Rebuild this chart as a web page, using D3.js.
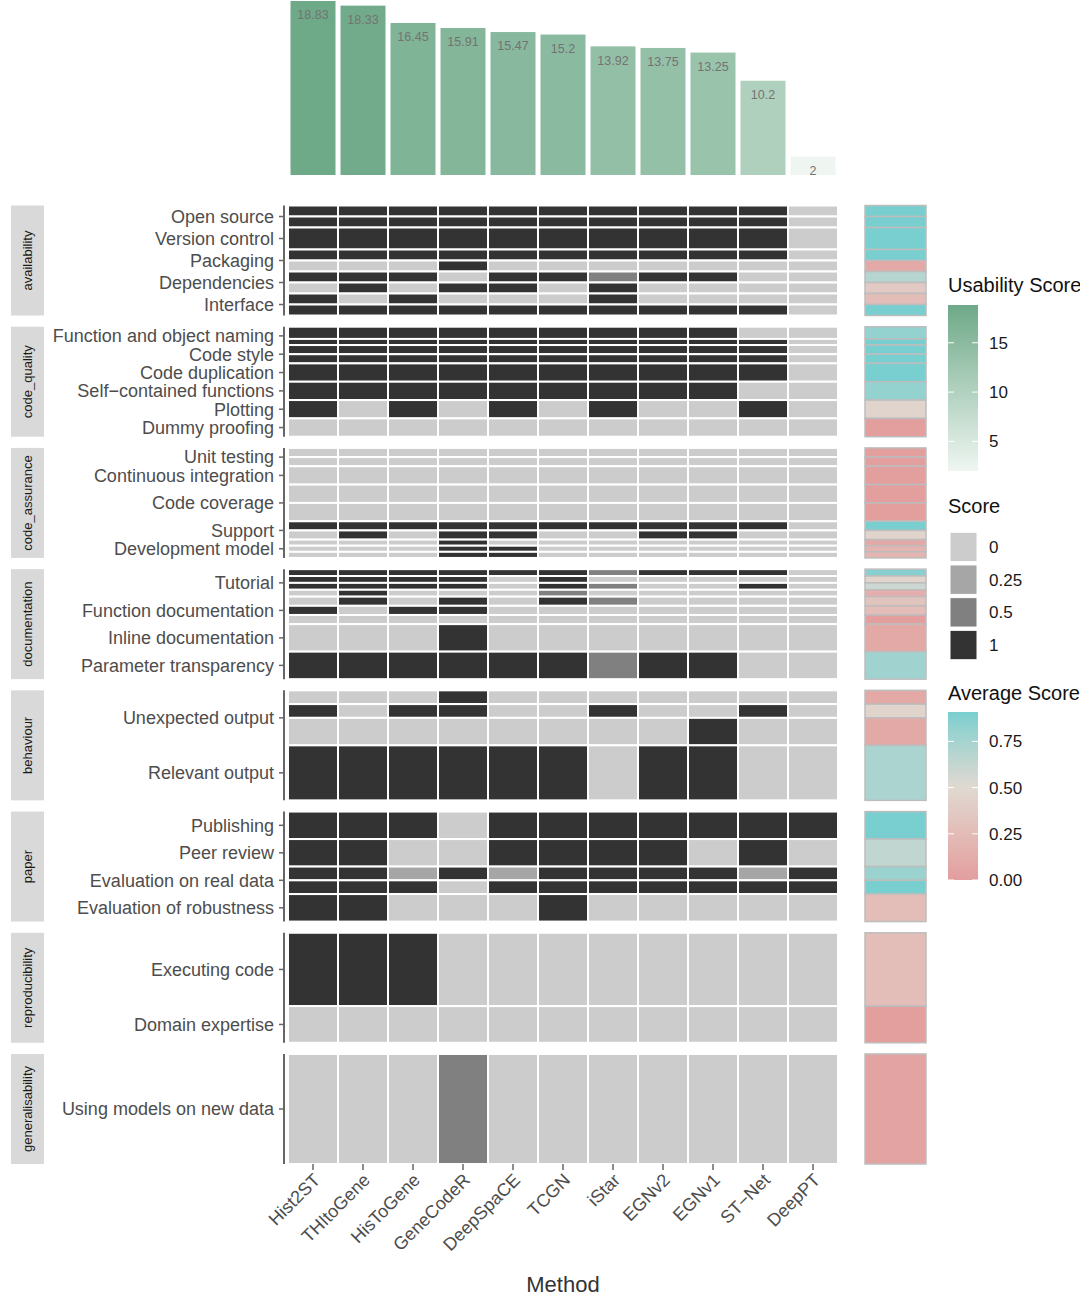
<!DOCTYPE html>
<html>
<head>
<meta charset="utf-8">
<script src="https://cdn.jsdelivr.net/npm/d3@7"></script>
<style>
  html, body { margin: 0; padding: 0; background: #fff; }
  svg { display: block; font-family: "Liberation Sans", Arial, sans-serif; }
</style>
</head>
<body>
<svg id="chart" width="1080" height="1308"></svg>
<script>
// ---------------- data ----------------
const methods = ["Hist2ST", "THItoGene", "HisToGene", "GeneCodeR", "DeepSpaCE", "TCGN", "iStar", "EGNv2", "EGNv1", "ST\u2212Net", "DeepPT"];
const usabilityScores = [18.83, 18.33, 16.45, 15.91, 15.47, 15.2, 13.92, 13.75, 13.25, 10.2, 2];

const categories = ["availability", "code_quality", "code_assurance", "documentation", "behaviour", "paper", "reproducibility", "generalisability"];

const criteria = [
  ["availability", "Open source"], ["availability", "Version control"], ["availability", "Packaging"],
  ["availability", "Dependencies"], ["availability", "Interface"],
  ["code_quality", "Function and object naming"], ["code_quality", "Code style"], ["code_quality", "Code duplication"],
  ["code_quality", "Self\u2212contained functions"], ["code_quality", "Plotting"], ["code_quality", "Dummy proofing"],
  ["code_assurance", "Unit testing"], ["code_assurance", "Continuous integration"], ["code_assurance", "Code coverage"],
  ["code_assurance", "Support"], ["code_assurance", "Development model"],
  ["documentation", "Tutorial"], ["documentation", "Function documentation"], ["documentation", "Inline documentation"],
  ["documentation", "Parameter transparency"],
  ["behaviour", "Unexpected output"], ["behaviour", "Relevant output"],
  ["paper", "Publishing"], ["paper", "Peer review"], ["paper", "Evaluation on real data"], ["paper", "Evaluation of robustness"],
  ["reproducibility", "Executing code"], ["reproducibility", "Domain expertise"],
  ["generalisability", "Using models on new data"]
];

// each row: [criterion, height in units, scores per method]
const scoreRows = [
  ["Open source", 0.5, [1,1,1,1,1,1,1,1,1,1,0]],
  ["Open source", 0.5, [1,1,1,1,1,1,1,1,1,1,0]],
  ["Version control", 1, [1,1,1,1,1,1,1,1,1,1,0]],
  ["Packaging", 0.5, [1,1,1,1,1,1,1,1,1,1,0]],
  ["Packaging", 0.5, [0,0,0,1,0,0,0,0,0,0,0]],
  ["Dependencies", 0.5, [1,1,1,0,1,1,0.5,1,1,0,0]],
  ["Dependencies", 0.5, [0,1,0,1,1,0,1,0,0,0,0]],
  ["Interface", 0.5, [1,0,1,0,0,0,1,0,0,0,0]],
  ["Interface", 0.5, [1,1,1,1,1,1,1,1,1,1,0]],

  ["Function and object naming", 2/3, [1,1,1,1,1,1,1,1,1,0,0]],
  ["Function and object naming", 1/3, [1,1,1,1,1,1,1,1,1,1,0]],
  ["Code style", 0.5, [1,1,1,1,1,1,1,1,1,1,0]],
  ["Code style", 0.5, [1,1,1,1,1,1,1,1,1,1,0]],
  ["Code duplication", 1, [1,1,1,1,1,1,1,1,1,1,0]],
  ["Self\u2212contained functions", 1, [1,1,1,1,1,1,1,1,1,0,0]],
  ["Plotting", 1, [1,0,1,0,1,0,1,0,0,1,0]],
  ["Dummy proofing", 1, [0,0,0,0,0,0,0,0,0,0,0]],

  ["Unit testing", 0.5, [0,0,0,0,0,0,0,0,0,0,0]],
  ["Unit testing", 0.5, [0,0,0,0,0,0,0,0,0,0,0]],
  ["Continuous integration", 1, [0,0,0,0,0,0,0,0,0,0,0]],
  ["Code coverage", 1, [0,0,0,0,0,0,0,0,0,0,0]],
  ["Code coverage", 1, [0,0,0,0,0,0,0,0,0,0,0]],
  ["Support", 0.5, [1,1,1,1,1,1,1,1,1,1,0]],
  ["Support", 0.5, [0,1,0,1,1,0,0,1,1,0,0]],
  ["Development model", 1/3, [0,0,0,1,0,0,0,0,0,0,0]],
  ["Development model", 1/3, [0,0,0,1,1,0,0,0,0,0,0]],
  ["Development model", 1/3, [0,0,0,1,1,0,0,0,0,0,0]],

  ["Tutorial", 0.25, [1,1,1,1,1,1,0.5,1,1,1,0]],
  ["Tutorial", 0.25, [1,1,1,1,0,1,0,0,0,0,0]],
  ["Tutorial", 0.25, [1,1,1,1,0,1,0.5,0,0,1,0]],
  ["Tutorial", 0.25, [0,1,0,0,0,0.5,0,0,0,0,0]],
  ["Function documentation", 1/3, [0,1,0,1,0,1,0.5,0,0,0,0]],
  ["Function documentation", 1/3, [1,0,1,1,0,0,0,0,0,0,0]],
  ["Function documentation", 1/3, [0,0,0,0,0,0,0,0,0,0,0]],
  ["Inline documentation", 1, [0,0,0,1,0,0,0,0,0,0,0]],
  ["Parameter transparency", 1, [1,1,1,1,1,1,0.5,1,1,0,0]],

  ["Unexpected output", 0.25, [0,0,0,1,0,0,0,0,0,0,0]],
  ["Unexpected output", 0.25, [1,0,1,1,0,0,1,0,0,1,0]],
  ["Unexpected output", 0.5, [0,0,0,0,0,0,0,0,1,0,0]],
  ["Relevant output", 1, [1,1,1,1,1,1,0,1,1,0,0]],

  ["Publishing", 1, [1,1,1,0,1,1,1,1,1,1,1]],
  ["Peer review", 1, [1,1,0,0,1,1,1,1,0,1,0]],
  ["Evaluation on real data", 0.5, [1,1,0.25,1,0.25,1,1,1,1,0.25,1]],
  ["Evaluation on real data", 0.5, [1,1,1,0,1,1,1,1,1,1,1]],
  ["Evaluation of robustness", 1, [1,1,0,0,0,1,0,0,0,0,0]],

  ["Executing code", 2, [1,1,1,0,0,0,0,0,0,0,0]],
  ["Domain expertise", 1, [0,0,0,0,0,0,0,0,0,0,0]],

  ["Using models on new data", 1, [0,0,0,0.5,0,0,0,0,0,0,0]]
];

const scoreLevels = [0, 0.25, 0.5, 1];
const scoreLevelColors = ["#cccccc", "#a6a6a6", "#808080", "#333333"];
const usabilityTicks = [5, 10, 15];
const averageTicks = [0, 0.25, 0.5, 0.75];

// ---------------- layout ----------------
const svg = d3.select("#chart");

const xTile = d3.scaleBand().domain(methods).range([288, 838]).padding(0);
const xBar = d3.scaleBand().domain(methods).range([288, 838]).paddingInner(0.1).paddingOuter(0.05);
const yBar = d3.scaleLinear().domain([0, d3.max(usabilityScores)]).range([175, 1]);

const usabilityColor = d3.scaleLinear()
  .domain(d3.extent(usabilityScores))
  .range(["#eff6f2", "#6ea988"]);

const scoreColor = d3.scaleOrdinal().domain(scoreLevels).range(scoreLevelColors);

// ---- top bar chart ----
const bars = svg.append("g");
bars.selectAll("rect").data(methods).join("rect")
  .attr("x", d => xBar(d))
  .attr("width", xBar.bandwidth())
  .attr("y", (d, i) => yBar(usabilityScores[i]))
  .attr("height", (d, i) => yBar(0) - yBar(usabilityScores[i]))
  .attr("fill", (d, i) => usabilityColor(usabilityScores[i]));
bars.selectAll("text").data(methods).join("text")
  .attr("x", d => xBar(d) + xBar.bandwidth() / 2)
  .attr("y", (d, i) => yBar(usabilityScores[i]) + 14)
  .attr("dy", "0.35em")
  .attr("text-anchor", "middle")
  .attr("font-size", 12.5)
  .attr("fill", "#737373")
  .text((d, i) => String(usabilityScores[i]));

// ---- panels ----
const yPanel = d3.scaleBand().domain(categories).range([205.5, 1164]).paddingInner(0.0924);

const catOf = new Map(criteria.map(c => [c[1], c[0]]));
const rowsByCat = new Map(categories.map(c => [c, []]));
scoreRows.forEach(r => rowsByCat.get(catOf.get(r[0])).push(r));

const tiles = [];
const rowInfo = [];
const critPos = [];
categories.forEach(cat => {
  const rows = rowsByCat.get(cat);
  const total = d3.sum(rows, r => r[1]);
  const ys = d3.scaleLinear().domain([0, total]).range([yPanel(cat), yPanel(cat) + yPanel.bandwidth()]);
  let cum = 0;
  const span = new Map();
  rows.forEach(r => {
    const y0 = ys(cum), y1 = ys(cum + r[1]);
    r[2].forEach((v, i) => tiles.push({ method: methods[i], value: v, y0, y1 }));
    rowInfo.push({ y0, y1, avg: d3.mean(r[2]) });
    if (!span.has(r[0])) span.set(r[0], [y0, y1]); else span.get(r[0])[1] = y1;
    cum += r[1];
  });
  span.forEach((s, label) => critPos.push({ label, y: (s[0] + s[1]) / 2 }));
});

const maxAvg = d3.max(rowInfo, d => d.avg);
const avgColor = d3.scaleLinear()
  .domain([0, 0.5, maxAvg])
  .range(["#e39e9e", "#e0d9d1", "#79cfcf"])
  .interpolate(d3.interpolateLab);

// strips + axis lines
const strips = svg.append("g");
categories.forEach(cat => {
  const y0 = yPanel(cat), h = yPanel.bandwidth();
  strips.append("rect").attr("x", 11).attr("y", y0).attr("width", 33).attr("height", h).attr("fill", "#d9d9d9");
  strips.append("text")
    .attr("transform", `translate(${27.5},${y0 + h / 2}) rotate(-90)`)
    .attr("text-anchor", "middle").attr("dy", "0.35em")
    .attr("font-size", 13).attr("fill", "#1a1a1a")
    .text(cat);
  svg.append("line").attr("x1", 284).attr("x2", 284).attr("y1", y0).attr("y2", y0 + h)
    .attr("stroke", "#666").attr("stroke-width", 2);
});

// tiles
svg.append("g").selectAll("rect").data(tiles).join("rect")
  .attr("x", d => xTile(d.method))
  .attr("width", xTile.bandwidth())
  .attr("y", d => d.y0)
  .attr("height", d => d.y1 - d.y0)
  .attr("fill", d => scoreColor(d.value))
  .attr("stroke", "#fff")
  .attr("stroke-width", 2);

// average column
svg.append("g").selectAll("rect").data(rowInfo).join("rect")
  .attr("x", 865).attr("width", 61)
  .attr("y", d => d.y0).attr("height", d => d.y1 - d.y0)
  .attr("fill", d => avgColor(d.avg))
  .attr("stroke", "#bdbdbd").attr("stroke-width", 1.5);

// y-axis ticks & labels
const yAxis = svg.append("g");
yAxis.selectAll("line").data(critPos).join("line")
  .attr("x1", 279).attr("x2", 284).attr("y1", d => d.y).attr("y2", d => d.y)
  .attr("stroke", "#666").attr("stroke-width", 1.5);
yAxis.selectAll("text").data(critPos).join("text")
  .attr("x", 274).attr("y", d => d.y).attr("dy", "0.35em")
  .attr("text-anchor", "end").attr("font-size", 18).attr("fill", "#4d4d4d")
  .text(d => d.label);

// x axis
const xAxis = svg.append("g");
methods.forEach(m => {
  const cx = xTile(m) + xTile.bandwidth() / 2;
  xAxis.append("line").attr("x1", cx).attr("x2", cx).attr("y1", 1164).attr("y2", 1170)
    .attr("stroke", "#666").attr("stroke-width", 1.5);
  xAxis.append("text")
    .attr("transform", `translate(${cx - 1},${1172}) rotate(-45)`)
    .attr("text-anchor", "end").attr("dy", "0.72em")
    .attr("font-size", 18).attr("fill", "#4d4d4d")
    .text(m);
});
svg.append("text").attr("x", 563).attr("y", 1284).attr("dy", "0.35em")
  .attr("text-anchor", "middle").attr("font-size", 22).attr("fill", "#333")
  .text("Method");

// ---------------- legends ----------------
const defs = svg.append("defs");
function colorbar(id, scale, dom, y0, y1, ticks, fmt, title, titleY) {
  const grad = defs.append("linearGradient").attr("id", id)
    .attr("x1", 0).attr("y1", 1).attr("x2", 0).attr("y2", 0);
  const n = 20;
  d3.range(n + 1).forEach(k => {
    const v = dom[0] + (dom[1] - dom[0]) * k / n;
    grad.append("stop").attr("offset", k / n).attr("stop-color", scale(v));
  });
  const ly = d3.scaleLinear().domain(dom).range([y1, y0]);
  svg.append("text").attr("x", 948).attr("y", titleY).attr("dy", "0.35em")
    .attr("font-size", 20).attr("fill", "#111").text(title);
  svg.append("rect").attr("x", 948).attr("y", y0).attr("width", 30).attr("height", y1 - y0)
    .attr("fill", `url(#${id})`);
  ticks.forEach(t => {
    const ty = ly(t);
    svg.append("line").attr("x1", 948).attr("x2", 954).attr("y1", ty).attr("y2", ty).attr("stroke", "#fff").attr("stroke-width", 1);
    svg.append("line").attr("x1", 972).attr("x2", 978).attr("y1", ty).attr("y2", ty).attr("stroke", "#fff").attr("stroke-width", 1);
    svg.append("text").attr("x", 989).attr("y", ty).attr("dy", "0.35em")
      .attr("font-size", 17).attr("fill", "#1a1a1a").text(fmt(t));
  });
}
colorbar("gradUse", usabilityColor, d3.extent(usabilityScores), 305, 471, usabilityTicks, d => String(d), "Usability Score", 285);

svg.append("text").attr("x", 948).attr("y", 506).attr("dy", "0.35em")
  .attr("font-size", 20).attr("fill", "#111").text("Score");
const legY = d3.scaleBand().domain(scoreLevels).range([529, 663]).padding(0.1);
scoreLevels.forEach(v => {
  svg.append("rect").attr("x", 950).attr("y", legY(v)).attr("width", 27).attr("height", legY.bandwidth())
    .attr("fill", scoreColor(v)).attr("stroke", "#fff").attr("stroke-width", 1);
  svg.append("text").attr("x", 989).attr("y", legY(v) + legY.bandwidth() / 2).attr("dy", "0.35em")
    .attr("font-size", 17).attr("fill", "#1a1a1a").text(String(v));
});

colorbar("gradAvg", avgColor, [0, maxAvg], 712, 880, averageTicks, d => d.toFixed(2), "Average Score", 693);
</script>
</body>
</html>
